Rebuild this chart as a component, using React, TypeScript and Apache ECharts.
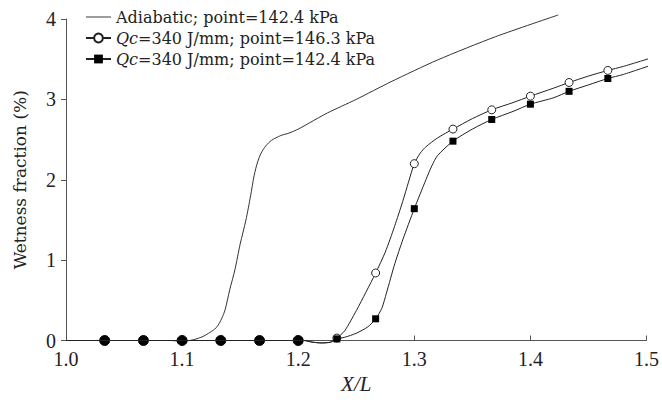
import React, { useEffect, useRef } from "react";
import * as echarts from "echarts";

const seriesNames = [
  "Adiabatic; point=142.4 kPa",
  "Qc=340 J/mm; point=146.3 kPa",
  "Qc=340 J/mm; point=142.4 kPa",
];

const xTicks = [1.0, 1.1, 1.2, 1.3, 1.4, 1.5];
const yTicks = [0, 1, 2, 3, 4];

// Adiabatic curve (line only)
const adiabaticCurve: [number, number][] = [
  [1.0, 0], [1.09, 0], [1.1, -0.01], [1.11, 0.01], [1.118, 0.05], [1.1228, 0.09],
  [1.128, 0.14], [1.131, 0.19], [1.134, 0.27], [1.137, 0.38], [1.141, 0.63],
  [1.1455, 0.88], [1.15, 1.2], [1.155, 1.5], [1.159, 1.8], [1.162, 2.05],
  [1.165, 2.22], [1.168, 2.33], [1.172, 2.42], [1.177, 2.49], [1.185, 2.55],
  [1.192, 2.58], [1.2, 2.63], [1.21, 2.71], [1.225, 2.83], [1.25, 3.0],
  [1.28, 3.22], [1.32, 3.49], [1.37, 3.78], [1.424, 4.05],
];

// Qc, 146.3 kPa: curve and markers
const curve146: [number, number][] = [
  [1.0, 0], [1.205, 0], [1.212, -0.02], [1.22, -0.03], [1.228, -0.02],
  [1.24, 0.12], [1.25, 0.37], [1.2583, 0.6], [1.275, 1.1], [1.283, 1.42],
  [1.29, 1.73], [1.295, 1.97], [1.305, 2.33], [1.31, 2.41], [1.32, 2.52],
  [1.35, 2.76], [1.385, 2.96], [1.42, 3.14], [1.45, 3.29], [1.48, 3.41],
  [1.505, 3.52],
];
const markers146: [number, number][] = [
  [1.0333, 0], [1.0667, 0], [1.1, 0], [1.1333, 0], [1.1667, 0], [1.2, 0],
  [1.2333, 0.03], [1.2667, 0.84], [1.3, 2.2], [1.3333, 2.63], [1.3667, 2.87],
  [1.4, 3.04], [1.4333, 3.21], [1.4667, 3.36],
];

// Qc, 142.4 kPa: curve and markers
const curve142: [number, number][] = [
  [1.0, 0], [1.205, 0], [1.212, -0.02], [1.22, -0.03], [1.228, -0.02],
  [1.24, 0.04], [1.25, 0.09], [1.26, 0.17], [1.272, 0.4], [1.276, 0.59],
  [1.2833, 0.96], [1.29, 1.25], [1.31, 2.0], [1.315, 2.17], [1.32, 2.3],
  [1.35, 2.63], [1.385, 2.85], [1.42, 3.02], [1.45, 3.18], [1.48, 3.31],
  [1.505, 3.43],
];
const markers142: [number, number][] = [
  [1.2333, 0.02], [1.2667, 0.27], [1.3, 1.64], [1.3333, 2.48], [1.3667, 2.75],
  [1.4, 2.94], [1.4333, 3.1], [1.4667, 3.26],
];

const SERIF = "Liberation Serif";
const WIDE = "DejaVu Serif";

function merge(curve: [number, number][], markers: [number, number][], zeroDot: boolean) {
  const items: any[] = [];
  curve.forEach((p) => items.push({ value: p, symbol: "none" }));
  markers.forEach((p) => {
    if (zeroDot && p[1] === 0) {
      items.push({ value: p, symbol: "circle", symbolSize: 10, itemStyle: { color: "#000", borderColor: "#000" } });
    } else {
      items.push({ value: p });
    }
  });
  items.sort((a, b) => a.value[0] - b.value[0]);
  return items;
}

export default function App() {
  const ref = useRef<HTMLDivElement>(null);
  useEffect(() => {
    if (!ref.current) return;
    const chart = echarts.init(ref.current, null, { renderer: "svg" });
    const axisColor = "#555";
    chart.setOption({
      animation: false,
      backgroundColor: "#fff",
      grid: { left: 66, right: 10, top: 19, bottom: 64.5, containLabel: false },
      legend: {
        orient: "vertical",
        left: 80,
        top: 4,
        itemWidth: 25,
        itemHeight: 11,
        itemGap: 5,
        data: [
          { name: seriesNames[0], icon: "path://M0,0H26V1H0Z" },
          { name: seriesNames[1] },
          { name: seriesNames[2] },
        ],
        formatter: (name: string) =>
          name.startsWith("Qc") ? "{i|Qc}{n|" + name.slice(2) + "}" : "{n|" + name + "}",
        textStyle: {
          fontFamily: WIDE,
          fontSize: 16,
          color: "#222",
          rich: {
            i: { fontFamily: WIDE, fontSize: 16, fontStyle: "italic", color: "#222" },
            n: { fontFamily: WIDE, fontSize: 16, color: "#222" },
          },
        },
      },
      xAxis: {
        type: "value",
        min: 1.0,
        max: 1.5,
        interval: 0.1,
        name: "X/L",
        nameLocation: "middle",
        nameGap: 33,
        nameTextStyle: { fontFamily: SERIF, fontSize: 21, fontStyle: "italic", color: "#222" },
        axisLine: { show: true, lineStyle: { color: axisColor, width: 1 } },
        axisTick: { show: true, inside: true, length: 5, lineStyle: { color: axisColor } },
        axisLabel: {
          margin: 8,
          fontFamily: SERIF,
          fontSize: 20,
          color: "#222",
          formatter: (v: number) => {
            const t = xTicks.find((x) => Math.abs(x - v) < 1e-6);
            return t !== undefined ? t.toFixed(1) : "";
          },
        },
        splitLine: { show: false },
      },
      yAxis: {
        type: "value",
        min: 0,
        max: 4,
        interval: 1,
        name: "Wetness fraction (%)",
        nameLocation: "middle",
        nameGap: 38,
        nameTextStyle: { fontFamily: WIDE, fontSize: 17, color: "#222" },
        axisLine: { show: true, lineStyle: { color: axisColor, width: 1 } },
        axisTick: { show: true, inside: false, length: 5, lineStyle: { color: axisColor } },
        axisLabel: {
          margin: 10,
          fontFamily: SERIF,
          fontSize: 20,
          color: "#222",
          formatter: (v: number) => (yTicks.includes(v) ? String(v) : ""),
        },
        splitLine: { show: false },
      },
      series: [
        {
          name: seriesNames[0],
          type: "line",
          data: adiabaticCurve,
          symbol: "none",
          smooth: 0.25,
          clip: false,
          lineStyle: { color: "#333", width: 1 },
          itemStyle: { color: "#333" },
          z: 2,
        },
        {
          name: seriesNames[1],
          type: "line",
          data: merge(curve146, markers146, true),
          symbol: "circle",
          symbolSize: 8,
          showSymbol: true,
          showAllSymbol: true,
          smooth: 0.25,
          clip: false,
          lineStyle: { color: "#222", width: 1 },
          itemStyle: { color: "#fff", borderColor: "#222", borderWidth: 1 },
          z: 3,
        },
        {
          name: seriesNames[2],
          type: "line",
          data: merge(curve142, markers142, false),
          symbol: "rect",
          symbolSize: 7,
          showSymbol: true,
          showAllSymbol: true,
          smooth: 0.25,
          clip: false,
          lineStyle: { color: "#222", width: 1 },
          itemStyle: { color: "#000", borderColor: "#000", borderWidth: 0 },
          z: 4,
        },
      ],
    });
    return () => chart.dispose();
  }, []);
  return <div ref={ref} style={{ width: 662, height: 405, position: "absolute", left: 0, top: 0 }} />;
}
